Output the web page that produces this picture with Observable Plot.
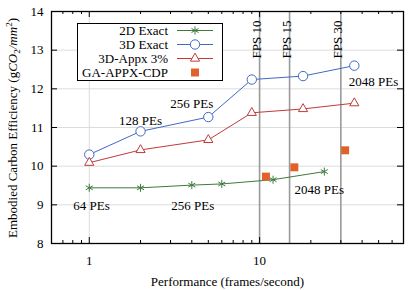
<!DOCTYPE html>
<html><head><meta charset="utf-8">
<script src="https://cdn.jsdelivr.net/npm/d3@7"></script>
<script src="https://cdn.jsdelivr.net/npm/@observablehq/plot@0.6"></script>
<style>body{margin:0;background:#fff}</style>
</head><body><div id="chart"></div>
<script>
const fps2D = [1, 2, 4, 6, 12, 24];
const ce2D = [9.44, 9.44, 9.51, 9.54, 9.65, 9.86];
const fps3D = [1, 2, 5, 9, 18, 36];
const ce3D = [10.30, 10.90, 11.27, 12.24, 12.33, 12.60];
const fpsAppx = [1, 2, 5, 9, 18, 36];
const ceAppx = [10.09, 10.42, 10.68, 11.38, 11.48, 11.63];
const fpsGA = [10.9, 16.0, 31.8];
const ceGA = [9.73, 9.97, 10.41];
const fpsTargets = [10, 15, 30];
const fpsLabels = ["FPS 10", "FPS 15", "FPS 30"];
const peLabels = ["64 PEs", "256 PEs", "128 PEs", "256 PEs", "2048 PEs", "2048 PEs"];
const peX = [1.03, 4.05, 2.0, 4.0, 46.7, 22.4];
const peY = [8.98, 8.98, 11.18, 11.6, 12.19, 9.40];
const seriesNames = ["2D Exact", "3D Exact", "3D-Appx 3%", "GA-APPX-CDP"];
const xTickLabels = [1, 10];
const yTickLabels = [8, 9, 10, 11, 12, 13, 14];
const xMinorTicks = [0.6, 0.7, 0.8, 0.9, 2, 3, 4, 5, 6, 7, 8, 9, 20, 30, 40, 50, 60, 70];

const colors = ["#3d7a3d", "#4169c4", "#c03a3a", "#e0622a"];
const W = 412, H = 290, mL = 51, mR = 9, mT = 11, mB = 47;
const fw = W - mL - mR, fh = H - mT - mB;

const zip = (xs, ys) => xs.map((x, i) => ({x, y: ys[i]}));
const d2D = zip(fps2D, ce2D), d3D = zip(fps3D, ce3D), dAppx = zip(fpsAppx, ceAppx), dGA = zip(fpsGA, ceGA);
const fpsData = fpsTargets.map((x, i) => ({x, t: fpsLabels[i]}));
const peData = peLabels.map((t, i) => ({t, x: peX[i], y: peY[i]}));

const svg = Plot.plot({
  width: W, height: H,
  marginLeft: mL, marginRight: mR, marginTop: mT, marginBottom: mB,
  style: {fontFamily: "Liberation Serif", fontSize: "13px", background: "white", color: "black"},
  x: {type: "log", domain: [0.6, 70]},
  y: {domain: [8, 14]},
  marks: [
    Plot.gridY(yTickLabels, {stroke: "#dcdcdc", strokeOpacity: 1}),
    Plot.gridX(xTickLabels, {stroke: "#dcdcdc", strokeOpacity: 1}),
    Plot.ruleX(fpsTargets, {stroke: "#9a9a9a", strokeWidth: 1.6}),
    Plot.text(fpsData, {x: "x", text: "t", frameAnchor: "top", rotate: -90, textAnchor: "end", dx: -8, dy: 9, fill: "black"}),
    Plot.line(d2D, {x: "x", y: "y", stroke: colors[0], strokeWidth: 1}),
    Plot.line(d3D, {x: "x", y: "y", stroke: colors[1], strokeWidth: 1}),
    Plot.line(dAppx, {x: "x", y: "y", stroke: colors[2], strokeWidth: 1}),
    Plot.dot(d2D, {x: "x", y: "y", symbol: "asterisk", stroke: colors[0], r: 3.8, strokeWidth: 1}),
    Plot.dot(d3D, {x: "x", y: "y", symbol: "circle", stroke: colors[1], fill: "white", r: 4.7, strokeWidth: 1}),
    Plot.dot(dAppx, {x: "x", y: "y", symbol: "triangle", stroke: colors[2], fill: "white", r: 3.4, strokeWidth: 1}),
    Plot.dot(dGA, {x: "x", y: "y", symbol: "square", fill: colors[3], r: 4.5}),
    Plot.text(peData, {x: "x", y: "y", text: "t", fill: "black"}),
    Plot.ruleX(xTickLabels, {insetTop: fh - 6, stroke: "black"}),
    Plot.ruleX(xTickLabels, {insetBottom: fh - 6, stroke: "black"}),
    Plot.ruleX(xMinorTicks, {insetTop: fh - 3, stroke: "black"}),
    Plot.ruleX(xMinorTicks, {insetBottom: fh - 3, stroke: "black"}),
    Plot.ruleY(yTickLabels, {insetRight: fw - 6, stroke: "black"}),
    Plot.ruleY(yTickLabels, {insetLeft: fw - 6, stroke: "black"}),
    Plot.axisX(xTickLabels, {tickSize: 0, tickPadding: 12, tickFormat: d => String(d), label: "Performance (frames/second)", labelAnchor: "center", labelOffset: 42, labelArrow: "none"}),
    Plot.axisY(yTickLabels, {tickSize: 0, tickPadding: 8, label: null}),
    Plot.frame({stroke: "black", strokeWidth: 1.3})
  ]
});

const root = d3.select(svg);
// Legend
const lg = root.append("g").attr("font-family", "Liberation Serif").attr("font-size", 13);
lg.append("rect").attr("x", 77.5).attr("y", 23.5).attr("width", 145).attr("height", 57)
  .attr("fill", "white").attr("stroke", "black").attr("stroke-width", 1);
const legSyms = [
  {s: d3.symbolAsterisk, r: 3.8, fill: "none", stroke: colors[0], line: true},
  {s: d3.symbolCircle, r: 4.7, fill: "white", stroke: colors[1], line: true},
  {s: d3.symbolTriangle, r: 3.4, fill: "white", stroke: colors[2], line: true},
  {s: d3.symbolSquare, r: 4.5, fill: colors[3], stroke: "none", line: false}
];
seriesNames.forEach((name, i) => {
  const y = 30.5 + i * 14;
  lg.append("text").attr("x", 168).attr("y", y).attr("text-anchor", "end")
    .attr("dy", "0.32em").attr("fill", "black").text(name);
  const m = legSyms[i];
  if (m.line) lg.append("line").attr("x1", 177).attr("x2", 213).attr("y1", y).attr("y2", y)
    .attr("stroke", m.stroke).attr("stroke-width", 1);
  lg.append("path").attr("transform", `translate(195,${y})`)
    .attr("d", d3.symbol(m.s, m.r * m.r * Math.PI)())
    .attr("fill", m.fill).attr("stroke", m.stroke).attr("stroke-width", 1);
});
// Y axis label
const yl = root.append("text").attr("transform", "translate(13,128) rotate(-90)")
  .attr("text-anchor", "middle").attr("dy", "0.32em")
  .attr("font-family", "Liberation Serif").attr("font-size", 13).attr("fill", "black");
yl.append("tspan").text("Embodied Carbon Efficiency (g");
yl.append("tspan").attr("font-style", "italic").text("CO");
yl.append("tspan").attr("font-size", 9).attr("dy", 3).text("2");
yl.append("tspan").attr("dy", -3).attr("font-style", "italic").text("/mm");
yl.append("tspan").attr("font-size", 9).attr("dy", -5).text("2");
yl.append("tspan").attr("dy", 5).text(")");

document.getElementById("chart").appendChild(svg);
</script>
</body></html>
